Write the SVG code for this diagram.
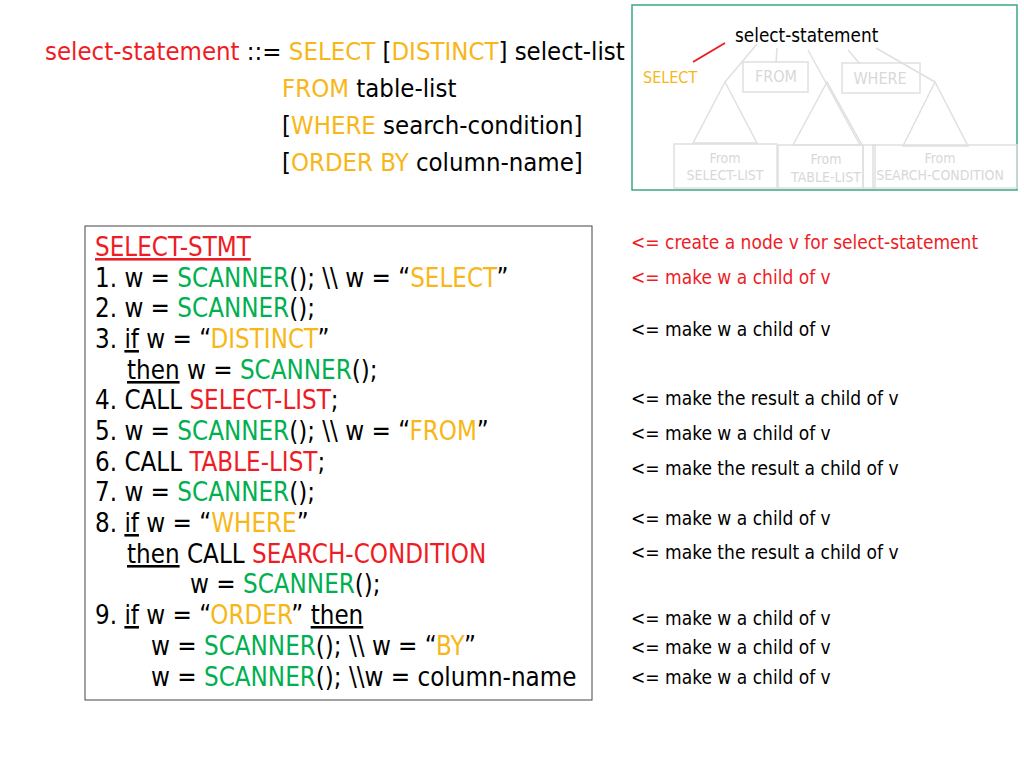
<svg xmlns="http://www.w3.org/2000/svg" width="1024" height="768" viewBox="0 0 1024 768">
<style>
text{font-family:"DejaVu Sans Condensed","Liberation Sans",sans-serif;fill:#000}
.r{fill:#ee1c25}.y{fill:#f7b718}.g{fill:#00b050}
.big{font-size:25.5px}
.code{font-size:25.7px}
.note{font-size:19px}
.faint{fill:none;stroke:#e0e0e0;stroke-width:1.5}
.ft{fill:#d8d8d8;font-size:14px;text-anchor:middle}
</style>
<rect width="1024" height="768" fill="#fff"/>
<g id="grammar" class="big">
<text x="45" y="60"><tspan class="r">select-statement</tspan> ::= <tspan class="y">SELECT</tspan> [<tspan class="y">DISTINCT</tspan>] select-list</text>
<text x="282" y="97"><tspan class="y">FROM</tspan> table-list</text>
<text x="282" y="134">[<tspan class="y">WHERE</tspan> search-condition]</text>
<text x="282" y="171">[<tspan class="y">ORDER BY</tspan> column-name]</text>
</g>
<g id="tree">
<rect x="632" y="5" width="385" height="185" fill="none" stroke="#3aa886" stroke-width="1.5"/>
<g class="faint">
<line x1="757" y1="44" x2="725" y2="82"/>
<line x1="777" y1="48" x2="776" y2="63"/>
<line x1="808" y1="50" x2="860" y2="145"/>
<line x1="848" y1="50" x2="860" y2="64"/>
<line x1="876" y1="48" x2="935" y2="82"/>
<polygon points="725,82 693,143 757,143"/>
<polygon points="827,82 793,145 862,145"/>
<polygon points="935,82 903,146 968,146"/>
<rect x="743" y="62" width="65" height="30"/>
<rect x="842" y="63" width="78" height="30"/>
<rect x="674" y="144" width="103" height="44"/>
<rect x="778" y="145" width="85" height="43"/>
<rect x="863" y="145" width="12" height="43"/>
<rect x="873" y="145" width="144" height="43"/>
</g>
<text class="ft" x="776" y="82" style="font-size:16px">FROM</text>
<text class="ft" x="880" y="84" style="font-size:16px">WHERE</text>
<text class="ft" x="725" y="163">From</text>
<text class="ft" x="725" y="180">SELECT-LIST</text>
<text class="ft" x="826" y="164">From</text>
<text class="ft" x="826" y="182">TABLE-LIST</text>
<text class="ft" x="940" y="163">From</text>
<text class="ft" x="940" y="180">SEARCH-CONDITION</text>
<line x1="725" y1="43" x2="693" y2="62" stroke="#ee1c25" stroke-width="2"/>
<text x="735" y="42" style="font-size:18.8px">select-statement</text>
<text class="y" x="643" y="83" style="font-size:16px">SELECT</text>
</g>
<g id="code" class="code">
<rect x="85" y="226" width="507" height="474" fill="none" stroke="#444" stroke-width="1"/>
<text x="95" y="256" class="r" text-decoration="underline">SELECT-STMT</text>
<text x="95" y="287">1. w = <tspan class="g">SCANNER</tspan>(); \\ w = “<tspan class="y">SELECT</tspan>”</text>
<text x="95" y="317">2. w = <tspan class="g">SCANNER</tspan>();</text>
<text x="95" y="348">3. <tspan text-decoration="underline">if</tspan> w = “<tspan class="y">DISTINCT</tspan>”</text>
<text x="127" y="379"><tspan text-decoration="underline">then</tspan> w = <tspan class="g">SCANNER</tspan>();</text>
<text x="95" y="409">4. CALL <tspan class="r">SELECT-LIST</tspan>;</text>
<text x="95" y="440">5. w = <tspan class="g">SCANNER</tspan>(); \\ w = “<tspan class="y">FROM</tspan>”</text>
<text x="95" y="471">6. CALL <tspan class="r">TABLE-LIST</tspan>;</text>
<text x="95" y="501">7. w = <tspan class="g">SCANNER</tspan>();</text>
<text x="95" y="532">8. <tspan text-decoration="underline">if</tspan> w = “<tspan class="y">WHERE</tspan>”</text>
<text x="127" y="563"><tspan text-decoration="underline">then</tspan> CALL <tspan class="r">SEARCH-CONDITION</tspan></text>
<text x="190" y="593">w = <tspan class="g">SCANNER</tspan>();</text>
<text x="95" y="624">9. <tspan text-decoration="underline">if</tspan> w = “<tspan class="y">ORDER</tspan>” <tspan text-decoration="underline">then</tspan></text>
<text x="151" y="655">w = <tspan class="g">SCANNER</tspan>(); \\ w = “<tspan class="y">BY</tspan>”</text>
<text x="151" y="686">w = <tspan class="g">SCANNER</tspan>(); \\w = column-name</text>
</g>
<g id="notes" class="note">
<text x="631" y="249" class="r">&lt;= create a node v for select-statement</text>
<text x="631" y="284" class="r">&lt;= make w a child of v</text>
<text x="631" y="336">&lt;= make w a child of v</text>
<text x="631" y="405">&lt;= make the result a child of v</text>
<text x="631" y="440">&lt;= make w a child of v</text>
<text x="631" y="475">&lt;= make the result a child of v</text>
<text x="631" y="525">&lt;= make w a child of v</text>
<text x="631" y="559">&lt;= make the result a child of v</text>
<text x="631" y="625">&lt;= make w a child of v</text>
<text x="631" y="654">&lt;= make w a child of v</text>
<text x="631" y="684">&lt;= make w a child of v</text>
</g>
</svg>
